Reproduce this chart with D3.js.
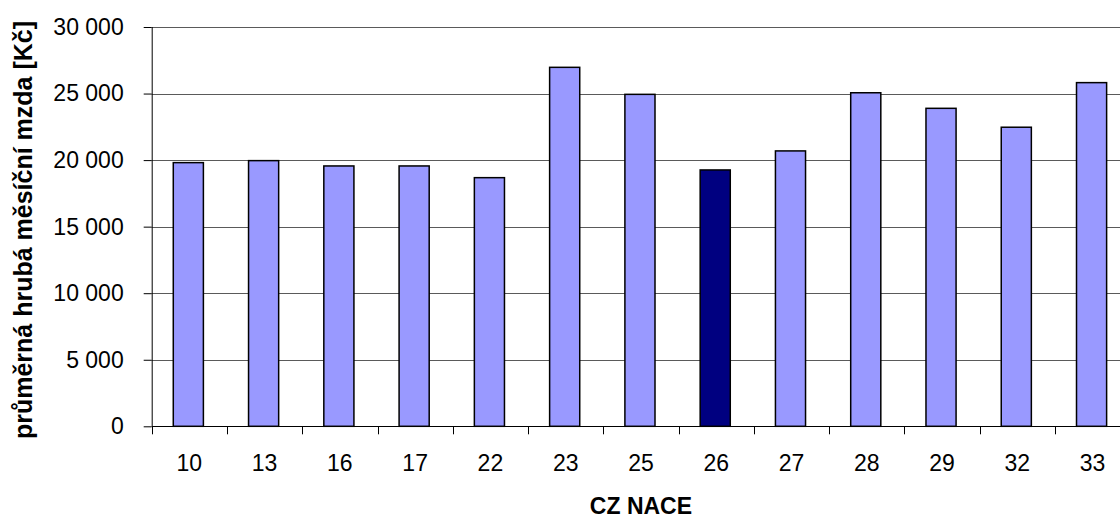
<!DOCTYPE html>
<html>
<head>
<meta charset="utf-8">
<script src="https://cdn.jsdelivr.net/npm/d3@7"></script>
<style>
  html, body { margin: 0; padding: 0; background: #fff; }
  svg { display: block; font-family: "Liberation Sans", Arial, sans-serif; }
</style>
</head>
<body>
<svg id="chart" width="1120" height="518"></svg>
<script>
// odvětví CZ NACE a průměrné mzdy
const nace = ["10", "13", "16", "17", "22", "23", "25", "26", "27", "28", "29", "32", "33"];
const mzda = [19810, 19960, 19560, 19560, 18680, 26970, 24940, 19260, 20690, 25060, 23890, 22470, 25820];
const zvyraznene = ["26"];
const yTicks = [0, 5000, 10000, 15000, 20000, 25000, 30000];

const w = 1120, h = 518;
const pLeft = 151.7, pRight = 1130.2;   // graf je vpravo oříznutý
const pTop = 27, pBottom = 426.3;

const svg = d3.select("#chart");

const x = d3.scaleBand().domain(nace).range([pLeft, pRight]);
const y = d3.scaleLinear().domain([0, 30000]).range([pBottom, pTop]);

const cz = d3.formatLocale({ decimal: ",", thousands: " ", grouping: [3], currency: ["", ""] });
const fmt = cz.format(",");

// mřížka
svg.append("g")
  .selectAll("line")
  .data(yTicks.filter(d => d > 0))
  .join("line")
  .attr("x1", pLeft).attr("x2", w)
  .attr("y1", d => Math.round(y(d)) + 0.5).attr("y2", d => Math.round(y(d)) + 0.5)
  .attr("stroke", "#5a5a5a").attr("stroke-width", 1);

// sloupce
const barW = x.bandwidth() * 0.4;
svg.append("g")
  .selectAll("rect")
  .data(nace)
  .join("rect")
  .attr("x", (d) => x(d) + (x.bandwidth() - barW) / 2 - 1)
  .attr("y", (d, i) => y(mzda[i]))
  .attr("width", barW)
  .attr("height", (d, i) => y(0) - y(mzda[i]))
  .attr("fill", d => zvyraznene.includes(d) ? "#000080" : "#9999ff")
  .attr("stroke", "#000").attr("stroke-width", 1.5);

// osa y
const yAxis = d3.axisLeft(y)
  .tickValues(yTicks)
  .tickSize(8)
  .tickPadding(20)
  .tickFormat(fmt);

const gy = svg.append("g")
  .attr("transform", "translate(" + pLeft + ",0)")
  .call(yAxis);
gy.select(".domain").attr("stroke", "#000").attr("d", "M0.5," + pTop + "V" + pBottom);
gy.selectAll(".tick line").attr("stroke", "#000");
gy.selectAll("text")
  .attr("font-size", 23).attr("fill", "#000")
  .attr("font-family", "Liberation Sans, Arial, sans-serif");

// osa x
const xAxis = d3.axisBottom(x).tickSize(0).tickPadding(28);
const gx = svg.append("g")
  .attr("transform", "translate(0," + pBottom + ")")
  .call(xAxis);
gx.select(".domain").remove();
gx.selectAll("text")
  .attr("font-size", 23).attr("fill", "#000")
  .attr("font-family", "Liberation Sans, Arial, sans-serif");

svg.append("line")
  .attr("x1", pLeft).attr("x2", w)
  .attr("y1", Math.round(pBottom) + 0.5).attr("y2", Math.round(pBottom) + 0.5)
  .attr("stroke", "#000");

// značky mezi kategoriemi
svg.append("g")
  .selectAll("line")
  .data(nace)
  .join("line")
  .attr("x1", d => Math.round(x(d)) + 0.5).attr("x2", d => Math.round(x(d)) + 0.5)
  .attr("y1", pBottom).attr("y2", pBottom + 8)
  .attr("stroke", "#000");

// popisky os
svg.append("text")
  .attr("transform", "translate(32," + 230 + ") rotate(-90)")
  .attr("text-anchor", "middle")
  .attr("font-size", 25).attr("font-weight", "bold")
  .text("průměrná hrubá měsíční mzda [Kč]");

svg.append("text")
  .attr("x", (pLeft + pRight) / 2).attr("y", 514)
  .attr("text-anchor", "middle")
  .attr("font-size", 23).attr("font-weight", "bold")
  .text("CZ NACE");
</script>
</body>
</html>
